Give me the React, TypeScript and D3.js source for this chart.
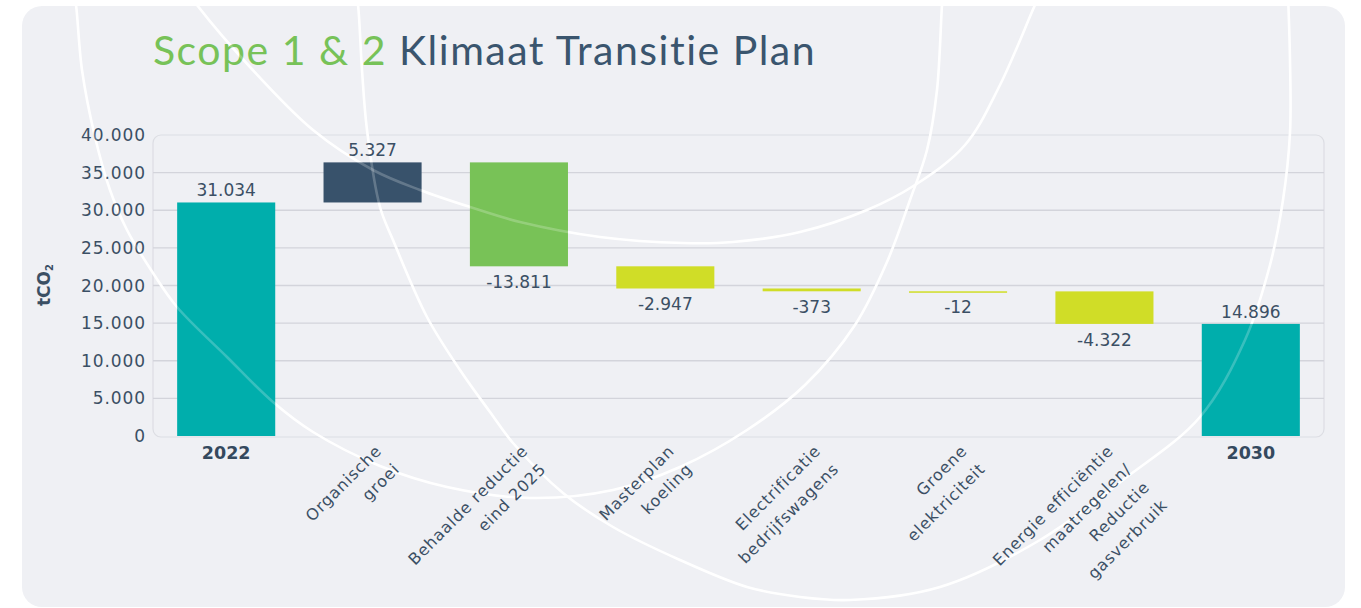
import React from "react";
import * as d3 from "d3";

// ---- data ----
const categories = [
  "2022",
  "Organische groei",
  "Behaalde reductie eind 2025",
  "Masterplan koeling",
  "Electrificatie bedrijfswagens",
  "Groene elektriciteit",
  "Energie efficiëntie maatregelen/ Reductie gasverbruik",
  "2030",
];
const categoryLines = [
  ["2022"],
  ["Organische", "groei"],
  ["Behaalde reductie", "eind 2025"],
  ["Masterplan", "koeling"],
  ["Electrificatie", "bedrijfswagens"],
  ["Groene", "elektriciteit"],
  ["Energie efficiëntie", "maatregelen/", "Reductie", "gasverbruik"],
  ["2030"],
];
const startTotal = 31034;
const changes = [5327, -13811, -2947, -373, -12, -4322];
const endTotal = 14896;
const yTicks = [0, 5000, 10000, 15000, 20000, 25000, 30000, 35000, 40000];
const yMax = 40000;

// ---- styling ----
const W = 1361;
const H = 608;
const FONT = "'DejaVu Sans', sans-serif";
const TXT = "#3b4f64";
const COLORS: Record<string, string> = {
  total: "#00aeac",
  increase: "#38526b",
  firstDecrease: "#78c257",
  decrease: "#d0dd27",
};

// decorative background arcs (not data)
const DECOR_ARCS: [number, number][][] = [
  [[74, -5], [76, 5], [82, 70], [95, 137], [110, 190], [127, 230], [153, 273], [177, 307], [227, 357], [273, 402], [313, 432], [380, 466], [447, 487], [530, 498], [613, 490], [680, 467], [747, 430], [805, 385], [855, 325], [887, 262], [910, 200], [927, 150], [937, 90], [942, 5], [943, -5]],
  [[190, -5], [197, 5], [250, 67], [313, 130], [373, 170], [420, 190], [470, 207], [520, 222], [600, 237], [683, 243], [733, 242], [800, 232], [867, 210], [915, 185], [965, 145], [1000, 85], [1035, 5], [1040, -5]],
  [[356, -5], [358, 5], [362, 70], [367, 130], [380, 207], [393, 240], [427, 317], [460, 370], [490, 412], [513, 443], [563, 493], [613, 527], [680, 560], [747, 587], [800, 597], [850, 600], [940, 587], [1040, 540], [1123, 480], [1200, 417], [1245, 340], [1270, 265], [1283, 200], [1290, 133], [1290, 60], [1288, -5]],
];

const locale = d3.formatLocale({ decimal: ",", thousands: ".", grouping: [3], currency: ["€", ""], minus: "-" });
const fmt = locale.format(",d");

type Bar = { cat: string; lines: string[]; y0: number; y1: number; value: number; kind: string };

function buildBars(): Bar[] {
  const bars: Bar[] = [];
  bars.push({ cat: categories[0], lines: categoryLines[0], y0: 0, y1: startTotal, value: startTotal, kind: "total" });
  let acc = startTotal;
  changes.forEach((c, i) => {
    const prev = acc;
    acc += c;
    let kind = c >= 0 ? "increase" : "decrease";
    if (i === 1) kind = "firstDecrease";
    bars.push({ cat: categories[i + 1], lines: categoryLines[i + 1], y0: prev, y1: acc, value: c, kind });
  });
  bars.push({ cat: categories[7], lines: categoryLines[7], y0: 0, y1: endTotal, value: endTotal, kind: "total" });
  return bars;
}

export default function App() {
  const bars = buildBars();
  const plotL = 153, plotR = 1324, plotT = 135, plotB = 436;
  const x = d3.scaleBand<string>().domain(categories).range([plotL, plotR]).paddingInner(0.33).paddingOuter(0.165);
  const y = d3.scaleLinear().domain([0, yMax]).range([plotB, plotT]);
  const arcLine = d3.line<[number, number]>().x((d) => d[0]).y((d) => d[1]).curve(d3.curveCatmullRom.alpha(0.5));

  const arcs = (opacity: number, key: string) => (
    <g clipPath="url(#card)" key={key}>
      {DECOR_ARCS.map((pts, i) => (
        <path key={i} d={arcLine(pts) || ""} fill="none" stroke="#ffffff" strokeWidth={2.6} strokeOpacity={opacity} />
      ))}
    </g>
  );

  return (
    <svg width={W} height={H} style={{ position: "absolute", left: 0, top: 0, display: "block" }}>
      <defs>
        <clipPath id="card">
          <rect x={22} y={6} width={1323} height={601} rx={20} />
        </clipPath>
      </defs>
      <rect x={0} y={0} width={W} height={H} fill="#ffffff" />
      <rect x={22} y={6} width={1323} height={601} rx={20} fill="#eff0f4" />
      {/* plot frame */}
      <rect x={plotL} y={plotT} width={plotR - plotL} height={plotB - plotT + 1} rx={8} fill="none" stroke="#dcdde3" strokeWidth={1.2} />
      {/* gridlines */}
      {yTicks.filter((t) => t > 0 && t < yMax).map((t) => (
        <line key={t} x1={plotL} x2={plotR} y1={y(t)} y2={y(t)} stroke="#d3d4db" strokeWidth={1.4} />
      ))}
      {arcs(1, "back")}
      {/* title */}
      <text x={153} y={65} fontFamily={"Lato, sans-serif"} fontSize={41} letterSpacing={1.5} fill="#3a556e">
        <tspan fill="#77c258">Scope 1 &amp; 2</tspan>
        <tspan> Klimaat Transitie Plan</tspan>
      </text>
      {/* y ticks */}
      {yTicks.map((t) => (
        <text key={t} x={146} y={y(t)} dy="0.36em" textAnchor="end" fontFamily={FONT} fontSize={17} letterSpacing={0.9} fill={TXT}>
          {fmt(t)}
        </text>
      ))}
      {/* y title */}
      <text transform={`translate(50, 285) rotate(-90)`} textAnchor="middle" fontFamily={FONT} fontSize={17} fontWeight="bold" fill={TXT}>
        tCO<tspan fontSize={10} dy={3}>2</tspan>
      </text>
      {/* bars */}
      {bars.map((b) => {
        const top = y(Math.max(b.y0, b.y1));
        const bot = y(Math.min(b.y0, b.y1));
        const h = Math.max(bot - top, 1.5);
        return <rect key={b.cat} x={x(b.cat)} y={top} width={x.bandwidth()} height={h} fill={COLORS[b.kind]} />;
      })}
      {arcs(0.22, "front")}
      {/* value labels */}
      {bars.map((b) => {
        const cx = (x(b.cat) as number) + x.bandwidth() / 2;
        const top = y(Math.max(b.y0, b.y1));
        const bot = y(Math.min(b.y0, b.y1));
        const yy = b.value >= 0 ? top - 6 : bot + 22;
        return (
          <text key={b.cat} x={cx} y={yy} textAnchor="middle" fontFamily={FONT} fontSize={17} fill={TXT}>
            {fmt(b.value)}
          </text>
        );
      })}
      {/* x labels */}
      {bars.map((b) => {
        const cx = (x(b.cat) as number) + x.bandwidth() / 2;
        if (b.lines.length === 1) {
          return (
            <text key={b.cat} x={cx} y={459} textAnchor="middle" fontFamily={FONT} fontSize={17.5} fontWeight="bold" fill="#34495e">
              {b.lines[0]}
            </text>
          );
        }
        return (
          <text key={b.cat} transform={`translate(${cx + 10}, 452) rotate(-45)`} textAnchor="end" fontFamily={FONT} fontSize={16} letterSpacing={0.9} fill={TXT}>
            {b.lines.map((l, i) => (
              <tspan key={i} x={0} dy={i === 0 ? 0 : 25.5}>
                {l}
              </tspan>
            ))}
          </text>
        );
      })}
    </svg>
  );
}
